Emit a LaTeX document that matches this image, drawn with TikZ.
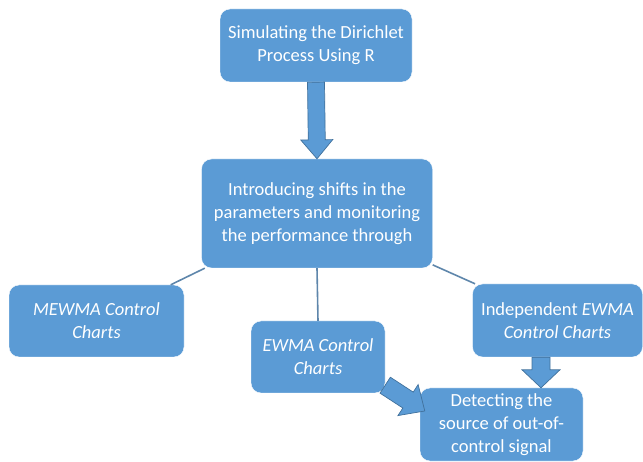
\documentclass[tikz,border=0pt]{standalone}
\usepackage{fontspec}
\setmainfont{Carlito}
\usepackage{tikz}
\usetikzlibrary{positioning,arrows.meta,calc}
\definecolor{boxblue}{HTML}{5B9BD5}
\definecolor{edgeblue}{HTML}{41719C}

% block arrow: start, end, half shaft, half head, head length
\newcommand{\fatarrow}[5]{%
  \coordinate (hb) at ($(#2)!#5!(#1)$);
  \draw[fat] ($(#1)!#3!90:(#2)$) -- ($(hb)!#3!90:(#2)$) -- ($(hb)!#4!90:(#2)$) -- (#2)
    -- ($(hb)!#4!-90:(#2)$) -- ($(hb)!#3!-90:(#2)$) -- ($(#1)!#3!-90:(#2)$) -- cycle;
}

\begin{document}
\begin{tikzpicture}[
    x=1pt, y=-1pt,
    box/.style={fill=boxblue, draw=white, rounded corners=10pt, align=center, text=white,
      inner sep=0pt, font=\fontsize{18.5}{23}\selectfont},
    link/.style={edgeblue!85, line width=1.6pt},
    fat/.style={fill=boxblue, draw=edgeblue, line width=0.7pt, line join=miter}
  ]
    \useasboundingbox (0,0) rectangle (643,462);

    \node[box, minimum width=192pt, minimum height=73pt] (sim) at (316,45.5) {Simulating the Dirichlet\\Process Using R};
    \node[box, minimum width=231pt, minimum height=109pt] (shift) at (317,213.5) {Introducing shifts in the\\parameters and monitoring\\the performance through};
    \node[box, minimum width=175pt, minimum height=72pt] (mewma) at (96.5,321) {\textit{MEWMA Control}\\\textit{Charts}};
    \node[box, minimum width=134pt, minimum height=72pt] (ewma) at (318,357) {\textit{EWMA Control}\\\textit{Charts}};
    \node[box, minimum width=170pt, minimum height=73pt] (indep) at (557.5,320.5) {Independent \textit{EWMA}\\\textit{Control Charts}};
    \node[box, minimum width=163pt, minimum height=73pt] (detect) at (501.5,424.5) {Detecting the\\source of out-of-\\control signal};

    \draw[link] (shift) -- (mewma);
    \draw[link] (shift.south) -- (ewma.north);
    \draw[link] (shift) -- (indep);

    % block arrows
    \coordinate (a1) at (sim.south);
    \coordinate (b1) at (shift.north);
    \fatarrow{a1}{b1}{8.5pt}{16pt}{19pt}
    \coordinate (a2) at ([xshift=-16.5pt]indep.south);
    \coordinate (b2) at (a2 |- detect.north);
    \fatarrow{a2}{b2}{9pt}{19pt}{18pt}
    \coordinate (a3) at ([yshift=8pt]ewma.south east);
    \coordinate (b3) at ([xshift=5pt,yshift=13.5pt]detect.west);
    \fatarrow{a3}{b3}{9.5pt}{18.5pt}{20pt}
\end{tikzpicture}
\end{document}
